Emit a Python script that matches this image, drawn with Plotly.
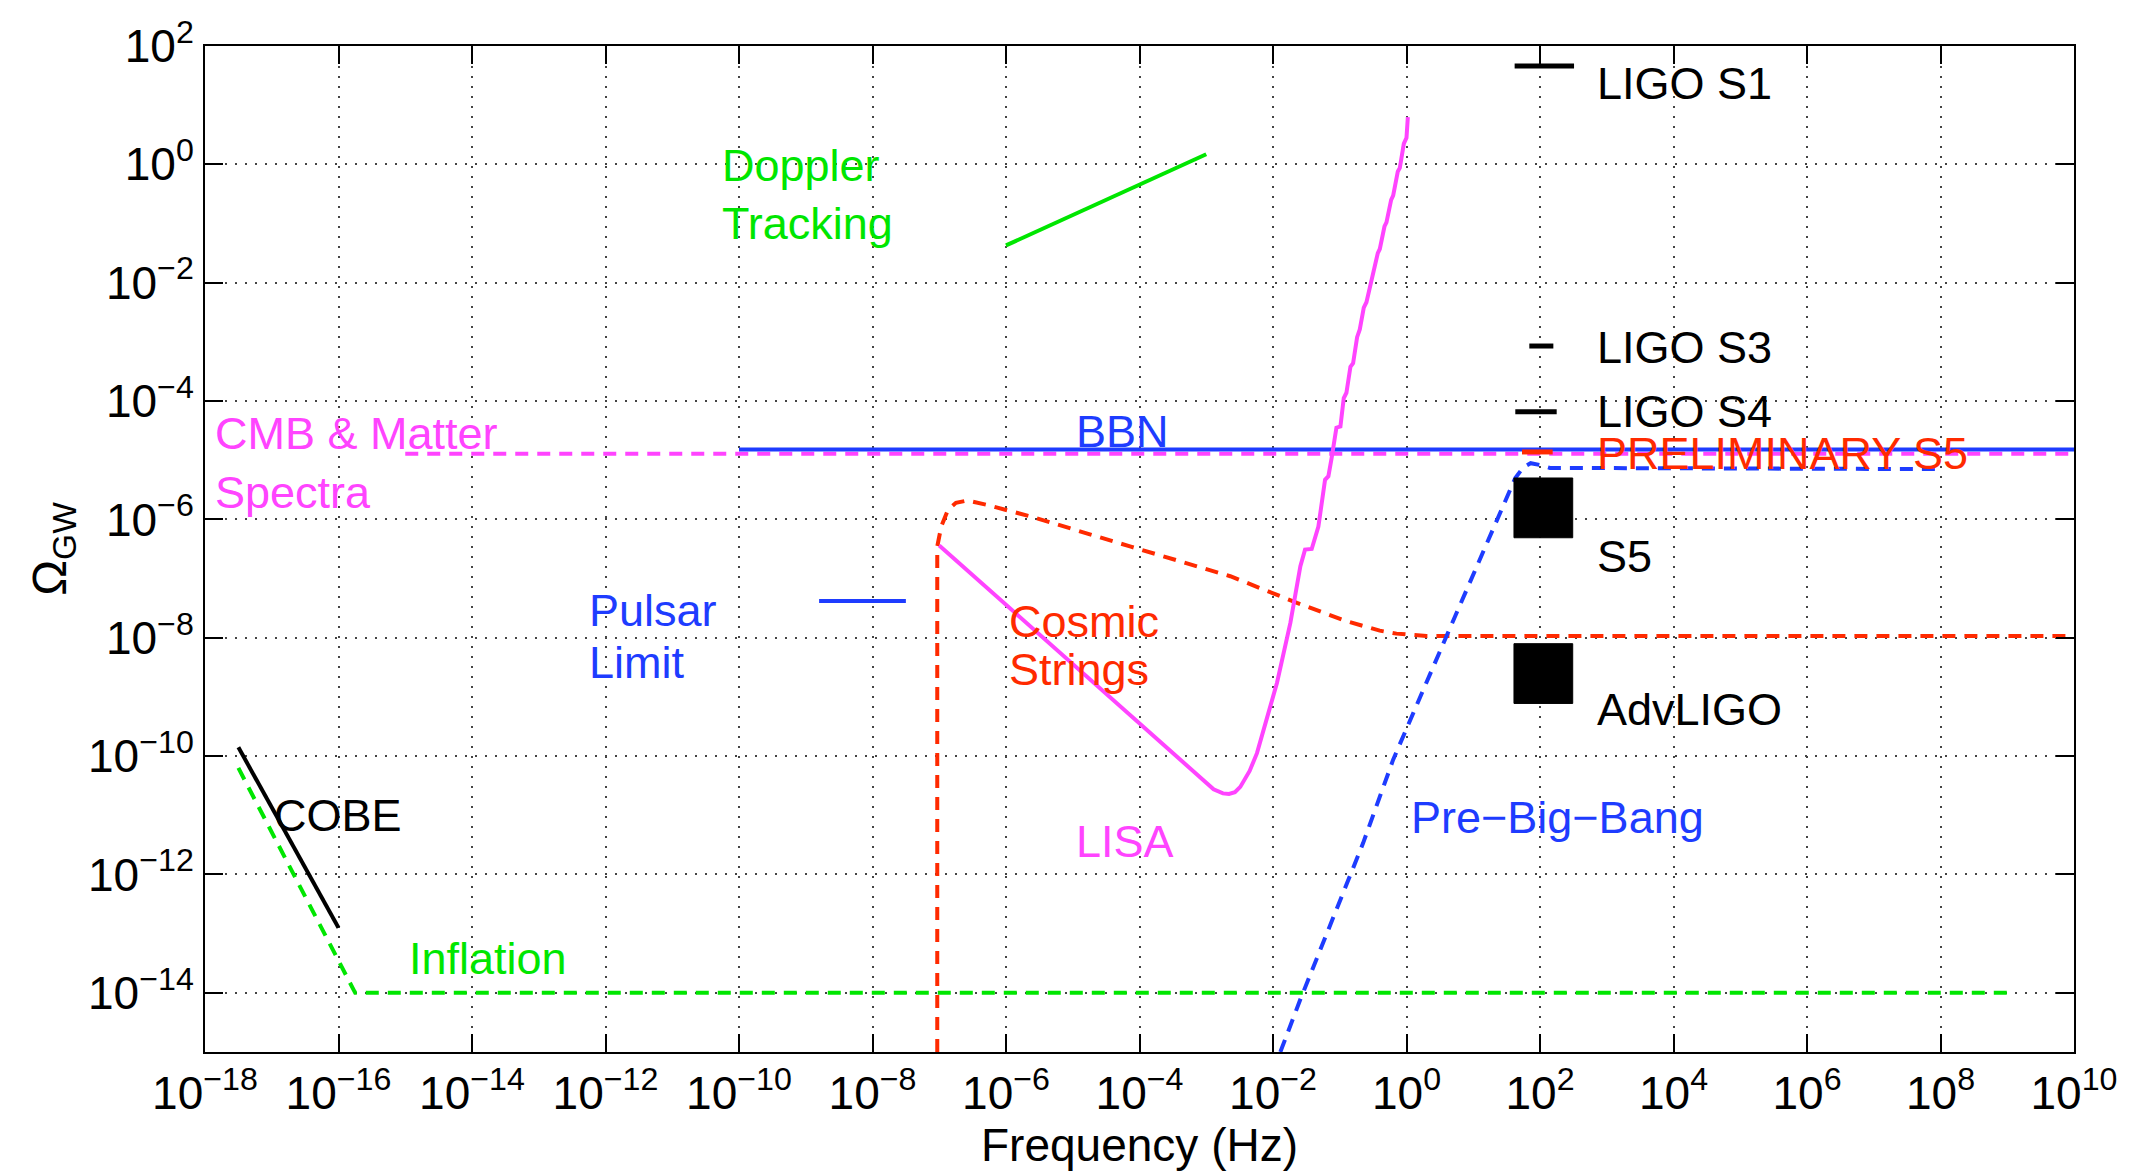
import plotly.graph_objects as go

# ---- data (log10 units) ----
cobe_x = [-17.5, -16.0]
cobe_y = [-9.85, -12.9]

infl_x = [-17.5, -15.75, 9.0]
infl_y = [-10.2, -14.0, -14.0]

doppler_x = [-6.0, -3.0]
doppler_y = [-1.37, 0.17]

pulsar_x = [-8.8, -7.5]
pulsar_y = [-7.38, -7.38]

bbn_x = [-10.0, 10.0]
bbn_y = [-4.82, -4.82]

cmb_x = [-15.0, 10.0]
cmb_y = [-4.89, -4.89]

cs_x = [-7.03, -7.03, -6.97, -6.87, -6.75, -6.58, -6.3, -5.63, -4.13, -2.64, -1.64, -0.9, -0.4, -0.15, 0.3, 1.0, 10.0]
cs_y = [-15.0, -6.46, -6.12, -5.84, -5.72, -5.68, -5.75, -5.95, -6.46, -6.96, -7.41, -7.72, -7.88, -7.93, -7.97, -7.97, -7.97]

lisa_x = [-7.0, -2.89, -2.75, -2.66, -2.57, -2.49, -2.35, -2.24, -1.94, -1.74, -1.59, -1.52, -1.42,
          -1.32, -1.22, -1.17, -1.12, -1.05, -0.99, -0.94, -0.90, -0.84, -0.80, -0.74, -0.70,
          -0.64, -0.60, -0.53, -0.50, -0.43, -0.40, -0.33, -0.30, -0.23, -0.20, -0.13, -0.10,
          -0.04, 0.0, 0.02]
lisa_y = [-6.44, -10.56, -10.63, -10.64, -10.61, -10.52, -10.25, -9.95, -8.76, -7.75, -6.79, -6.51, -6.50,
          -6.12, -5.33, -5.27, -4.95, -4.45, -4.43, -3.95, -3.86, -3.42, -3.36, -2.92, -2.79,
          -2.42, -2.33, -1.97, -1.88, -1.50, -1.43, -1.05, -0.98, -0.60, -0.53, -0.12, -0.06,
          0.35, 0.45, 0.80]

pbb_x = [-1.89, -1.59, -0.65, -0.2, 0.6, 1.5, 1.63, 1.75, 1.86, 2.0, 2.15, 8.0]
pbb_y = [-15.0, -14.11, -11.47, -10.06, -7.97, -5.67, -5.30, -5.12, -5.05, -5.08, -5.13, -5.15]

ligo_s1_x = [1.62, 2.51]; ligo_s1_y = [1.66, 1.66]
ligo_s3_x = [1.84, 2.20]; ligo_s3_y = [-3.07, -3.07]
ligo_s4_x = [1.63, 2.25]; ligo_s4_y = [-4.18, -4.18]
prelim_s5_x = [1.73, 2.19]; prelim_s5_y = [-4.86, -4.86]

s5_box_x = [1.61, 2.49]; s5_box_y = [-6.31, -5.30]
adv_box_x = [1.61, 2.49]; adv_box_y = [-9.11, -8.10]

x_ticks = list(range(-18, 11, 2))
y_ticks = list(range(-14, 3, 2))

GREEN = "#00E600"
MAG = "#FF44FF"
BLUE = "#1E3CFF"
RED = "#FF2A00"
BLACK = "#000000"

p10 = lambda a: [10 ** v for v in a]

fig = go.Figure()
DASH = "13px,9px"

def line(xs, ys, color, dash="solid", width=4):
    fig.add_trace(go.Scatter(x=p10(xs), y=p10(ys), mode="lines",
                             line=dict(color=color, width=width, dash=dash),
                             showlegend=False, hoverinfo="skip"))

def box(xs, ys):
    bx = [xs[0], xs[1], xs[1], xs[0], xs[0]]
    by = [ys[0], ys[0], ys[1], ys[1], ys[0]]
    fig.add_trace(go.Scatter(x=p10(bx), y=p10(by), mode="lines", fill="toself",
                             fillcolor=BLACK, line=dict(color=BLACK, width=1),
                             showlegend=False, hoverinfo="skip"))

line(cmb_x, cmb_y, MAG, DASH)
line(bbn_x, bbn_y, BLUE)
line(infl_x, infl_y, GREEN, DASH)
line(cobe_x, cobe_y, BLACK)
line(doppler_x, doppler_y, GREEN)
line(pulsar_x, pulsar_y, BLUE)
line(cs_x, cs_y, RED, DASH)
line(lisa_x, lisa_y, MAG)
line(pbb_x, pbb_y, BLUE, DASH)
line(ligo_s1_x, ligo_s1_y, BLACK, width=5)
line(ligo_s3_x, ligo_s3_y, BLACK, width=5)
line(ligo_s4_x, ligo_s4_y, BLACK, width=5)
line(prelim_s5_x, prelim_s5_y, RED, width=5)
box(s5_box_x, s5_box_y)
box(adv_box_x, adv_box_y)

labels = [
    ("Doppler", -10.29, -0.02, GREEN),
    ("Tracking", -10.29, -1.0, GREEN),
    ("CMB &amp; Matter", -17.88, -4.54, MAG),
    ("Spectra", -17.88, -5.55, MAG),
    ("BBN", -4.98, -4.52, BLUE),
    ("Pulsar", -12.28, -7.54, BLUE),
    ("Limit", -12.28, -8.42, BLUE),
    ("Cosmic", -5.99, -7.73, RED),
    ("Strings", -5.99, -8.53, RED),
    ("LISA", -4.98, -11.44, MAG),
    ("COBE", -16.99, -11.01, BLACK),
    ("Inflation", -14.98, -13.42, GREEN),
    ("Pre\u2212Big\u2212Bang", 0.04, -11.03, BLUE),
    ("LIGO S1", 2.82, 1.36, BLACK),
    ("LIGO S3", 2.82, -3.09, BLACK),
    ("LIGO S4", 2.82, -4.17, BLACK),
    ("PRELIMINARY S5", 2.82, -4.88, RED),
    ("S5", 2.82, -6.63, BLACK),
    ("AdvLIGO", 2.82, -9.22, BLACK),
]
for t, x, y, c in labels:
    fig.add_annotation(x=x, y=y, xref="x", yref="y", text=t, showarrow=False,
                       xanchor="left", yanchor="middle",
                       font=dict(color=c, size=45, family="Liberation Sans"))

def tl(v):
    s = str(v).replace("-", "\u2212")
    return f"10<sup>{s}</sup>"

axis_common = dict(showline=True, linecolor="black", linewidth=2, mirror="ticks",
                   ticks="inside", ticklen=18, tickwidth=1.5, tickcolor="black",
                   showgrid=True, gridcolor="#444444", griddash="2px,8px", gridwidth=1.5,
                   zeroline=False,
                   tickfont=dict(size=46, family="Liberation Sans", color="black"))

fig.update_xaxes(type="log", range=[-18, 10], tickvals=p10(x_ticks),
                 ticktext=[tl(v) for v in x_ticks],
                 title=dict(text="Frequency (Hz)", font=dict(size=46, family="Liberation Sans", color="black"),
                            standoff=4),
                 **axis_common)
fig.update_yaxes(type="log", range=[-15, 2], tickvals=p10(y_ticks),
                 ticktext=[tl(v) for v in y_ticks],
                 title=dict(text="\u03a9<sub>GW</sub>", font=dict(size=48, family="Liberation Sans", color="black"),
                            standoff=6),
                 **axis_common)

fig.update_layout(width=2129, height=1172,
                  margin=dict(l=205, r=50, t=46, b=120),
                  paper_bgcolor="white", plot_bgcolor="white",
                  showlegend=False)

fig.write_html("out.html")
